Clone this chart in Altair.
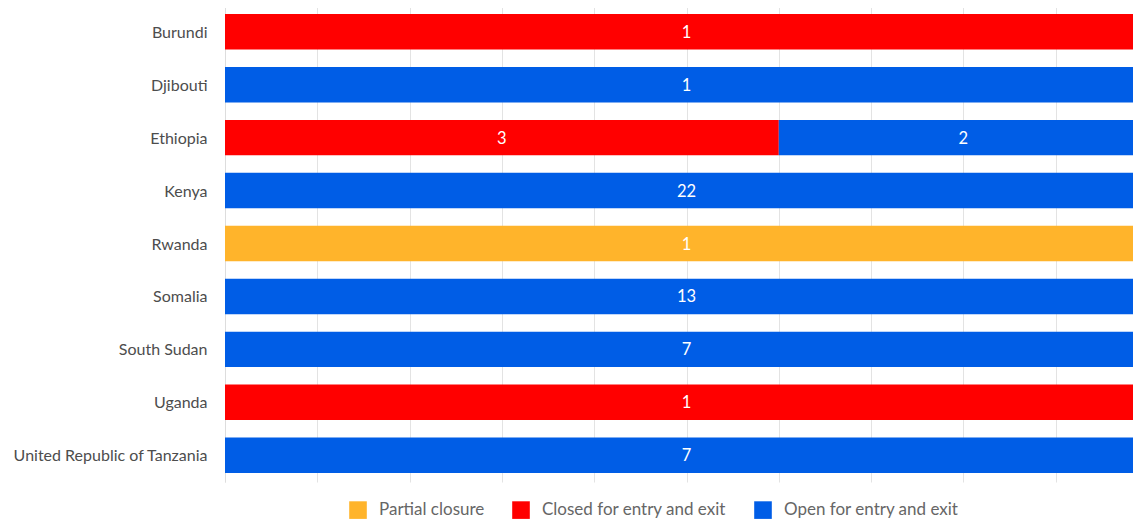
import altair as alt
import pandas as pd

countries = ["Burundi", "Djibouti", "Ethiopia", "Ethiopia", "Kenya", "Rwanda",
             "Somalia", "South Sudan", "Uganda", "United Republic of Tanzania"]
statuses = ["Closed for entry and exit", "Open for entry and exit",
            "Closed for entry and exit", "Open for entry and exit",
            "Open for entry and exit", "Partial closure",
            "Open for entry and exit", "Open for entry and exit",
            "Closed for entry and exit", "Open for entry and exit"]
counts = [1, 1, 3, 2, 22, 1, 13, 7, 1, 7]

country_order = ["Burundi", "Djibouti", "Ethiopia", "Kenya", "Rwanda", "Somalia",
                 "South Sudan", "Uganda", "United Republic of Tanzania"]
status_order = ["Partial closure", "Closed for entry and exit", "Open for entry and exit"]
status_colors = ["#FFB42B", "#FF0000", "#005DE6"]

df = pd.DataFrame({"country": countries, "status": statuses, "count": counts})
df["order"] = df["status"].map({s: i for i, s in enumerate(status_order)})

FULL_W = 923
VIEW_W = 908

base = alt.Chart(df).transform_stack(
    stack="count", groupby=["country"], as_=["x0", "x1"],
    offset="normalize", sort=[alt.SortField("order", order="ascending")]
).transform_calculate(mid="(datum.x0 + datum.x1) / 2")

xscale = alt.Scale(domain=[0, VIEW_W / FULL_W], nice=False, zero=False)
yenc = alt.Y("country:N", sort=country_order, title=None,
             scale=alt.Scale(paddingInner=0.33, paddingOuter=0.17),
             axis=alt.Axis(ticks=False, labelPadding=18, labelFontSize=16,
                           labelFont="Lato", labelColor="#4d4d4d", labelOffset=1,
                           domainColor="#dddddd", labelLimit=300))

bars = base.mark_bar(clip=True).encode(
    x=alt.X("x0:Q", scale=xscale, title=None,
            axis=alt.Axis(values=[0, 0.1, 0.2, 0.3, 0.4, 0.5, 0.6, 0.7, 0.8, 0.9],
                          labels=False, ticks=False, domain=False,
                          grid=True, gridColor="#e3e3e3")),
    x2="x1:Q",
    y=yenc,
    color=alt.Color("status:N", scale=alt.Scale(domain=status_order, range=status_colors),
                    title=None,
                    legend=alt.Legend(orient="none", legendX=124, legendY=496,
                                      direction="horizontal", columns=3,
                                      symbolType="square", symbolSize=310,
                                      symbolStrokeWidth=0, symbolOpacity=1,
                                      labelFont="Lato", labelFontSize=17,
                                      labelColor="#666666", labelOffset=12,
                                      labelLimit=400,
                                      columnPadding=27, padding=0)),
)

labels = base.mark_text(color="white", font="Lato", fontSize=16.5, baseline="middle",
                        dy=1).encode(
    x=alt.X("mid:Q", scale=xscale),
    y=alt.Y("country:N", sort=country_order),
    text=alt.Text("count:Q"),
)

chart = alt.layer(bars, labels).properties(
    width=VIEW_W, height=477,
    autosize=alt.AutoSizeParams(type="none"),
    padding={"left": 217, "top": -3, "right": 0, "bottom": 38},
).configure_view(stroke=None)

chart.save("out.html", embed_options={"renderer": "svg", "actions": False})
